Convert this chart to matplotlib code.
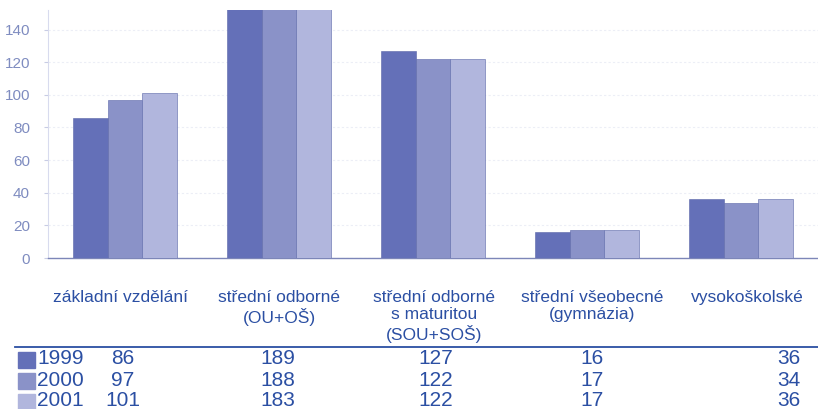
import matplotlib
matplotlib.use("Agg")
import matplotlib.pyplot as plt
import numpy as np

categories = ["základní vzdělání", "střední odborné\n(OU+OŠ)", "střední odborné\ns maturitou\n(SOU+SOŠ)",
              "střední všeobecné\n(gymnázia)", "vysokoškolské"]
years = ["1999", "2000", "2001"]
values = {
    "1999": [86, 189, 127, 16, 36],
    "2000": [97, 188, 122, 17, 34],
    "2001": [101, 183, 122, 17, 36],
}
yticks = [0, 20, 40, 60, 80, 100, 120, 140]

colors = ["#6470b8", "#8a92c8", "#b1b6dd"]
text_blue = "#2b4fa3"
tick_col = "#7f8cc0"

plt.rcParams['font.family'] = ['Liberation Sans', 'DejaVu Sans']

W, H = 818, 409
fig = plt.figure(figsize=(W / 100, H / 100), dpi=100)

def fx(px):
    return px / W

def fy(py):
    return 1 - py / H

ax = fig.add_axes([fx(48), fy(258), fx(818) - fx(48), fy(10) - fy(258)])
x = np.arange(len(categories))
bw = 0.225
for i, yr in enumerate(years):
    ax.bar(x + (i - 1) * bw, values[yr], width=bw, color=colors[i],
           edgecolor="#5a66a8", linewidth=0.4, zorder=3)

ax.set_xlim(-0.5, 4.5)
ax.set_ylim(0, 152)
ax.set_yticks(yticks)
ax.set_yticklabels([str(t) for t in yticks], color=tick_col, fontsize=11)
ax.tick_params(axis='y', length=3, color="#c8cce4", pad=10)
ax.set_xticks([])
ax.yaxis.grid(True, color="#eceef6", linewidth=0.8, linestyle=(0, (2, 2)), zorder=0)
for s in ["top", "right"]:
    ax.spines[s].set_visible(False)
ax.spines["left"].set_color("#d8dbee")
ax.spines["bottom"].set_color("#7d86b8")
ax.spines["bottom"].set_linewidth(1.0)

# category labels below
cat_centers_px = [121, 279, 434, 592, 747]
for c, px in zip(categories, cat_centers_px):
    fig.text(fx(px), fy(290), c, ha="center", va="top", color=text_blue,
             fontsize=12.5, linespacing=1.2)

# separator line
fig.add_artist(plt.Line2D([fx(15), fx(818)], [fy(347), fy(347)], color=text_blue, linewidth=1.3))

# data table
row_y = [359, 380, 401]
col_px = [123, 278, 436, 592]
for r, yr in enumerate(years):
    yy = fy(row_y[r])
    fig.patches.append(plt.Rectangle((fx(18), yy - 9 / H), 17 / W, 16 / H,
                                     transform=fig.transFigure, color=colors[r]))
    fig.text(fx(37), yy, yr, ha="left", va="center", color=text_blue, fontsize=15)
    for j, v in enumerate(values[yr]):
        if j < 4:
            fig.text(fx(col_px[j]), yy, str(v), ha="center", va="center", color=text_blue, fontsize=15)
        else:
            fig.text(fx(801), yy, str(v), ha="right", va="center", color=text_blue, fontsize=15)

fig.savefig("out.png", dpi=100)
